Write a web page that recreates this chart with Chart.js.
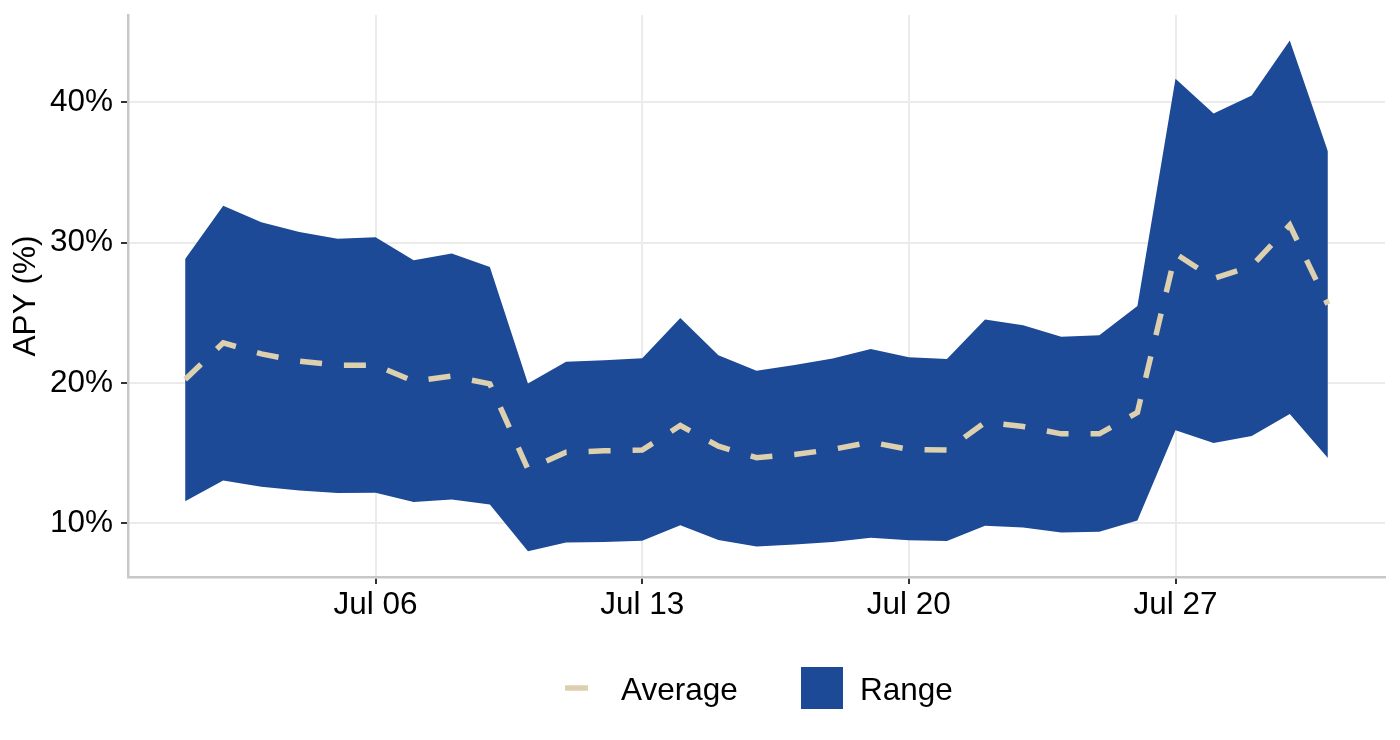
<!DOCTYPE html>
<html>
<head>
<meta charset="utf-8">
<script src="https://cdn.jsdelivr.net/npm/chart.js@4"></script>
<style>
  html, body { margin: 0; padding: 0; background: #fff; }
  #wrap { width: 1400px; height: 740px; }
</style>
</head>
<body>
<div id="wrap"><canvas id="myChart" width="1400" height="740"></canvas></div>
<script>
// day of month, July
const days = [1, 2, 3, 4, 5, 6, 7, 8, 9, 10, 11, 12, 13, 14, 15, 16, 17, 18, 19, 20, 21, 22, 23, 24, 25, 26, 27, 28, 29, 30, 31];
const rangeLow = [11.57, 13.06, 12.61, 12.35, 12.16, 12.18, 11.52, 11.71, 11.35, 8.02, 8.63, 8.67, 8.77, 9.86, 8.81, 8.36, 8.5, 8.67, 8.98, 8.79, 8.74, 9.83, 9.7, 9.35, 9.4, 10.21, 16.64, 15.72, 16.23, 17.79, 14.65];
const rangeHigh = [28.84, 32.63, 31.45, 30.76, 30.28, 30.38, 28.74, 29.22, 28.27, 19.96, 21.51, 21.62, 21.77, 24.64, 21.98, 20.87, 21.29, 21.74, 22.43, 21.84, 21.72, 24.52, 24.11, 23.3, 23.4, 25.49, 41.68, 39.21, 40.48, 44.4, 36.52];
const average = [20.25, 22.86, 22.08, 21.55, 21.27, 21.27, 20.13, 20.49, 19.94, 13.86, 15.07, 15.17, 15.22, 16.97, 15.5, 14.68, 14.91, 15.27, 15.79, 15.27, 15.22, 17.2, 16.9, 16.38, 16.38, 17.91, 29.22, 27.45, 28.33, 31.25, 25.59];

const xTicks = [6, 13, 20, 27];
const xTickLabels = ['Jul 06', 'Jul 13', 'Jul 20', 'Jul 27'];
const yTicks = [10, 20, 30, 40];

const rangeColor = '#1d4a96';
const avgColor = '#ddd0af';
const fontFamily = '"Liberation Sans", Arial, Helvetica, sans-serif';
const textSize = 31.5;

function toPoints(vals) {
    return days.map((d, i) => ({ x: d, y: vals[i] }));
}

// ggplot style legend under the plot
const bottomLegend = {
    id: 'bottomLegend',
    afterDraw(chart) {
        const ctx = chart.ctx;
        const avg = chart.data.datasets[0];
        const rng = chart.data.datasets[2];
        const cy = 688;
        ctx.save();
        ctx.strokeStyle = avg.borderColor;
        ctx.lineWidth = avg.borderWidth;
        ctx.beginPath();
        ctx.moveTo(565, cy);
        ctx.lineTo(588, cy);
        ctx.stroke();
        ctx.fillStyle = rng.backgroundColor;
        ctx.fillRect(801, 667, 42, 42);
        ctx.fillStyle = '#000';
        ctx.font = textSize + 'px ' + fontFamily;
        ctx.textBaseline = 'alphabetic';
        ctx.fillText(avg.label, 621, 700);
        ctx.fillText(rng.label, 860, 700);
        ctx.restore();
    }
};

let ctx = document.querySelector('#myChart').getContext('2d');
myChart = new Chart(ctx, {
    type: 'line',
    plugins: [bottomLegend],
    data: {
        datasets: [{
            label: 'Average',
            data: toPoints(average),
            borderColor: avgColor,
            borderWidth: 5.5,
            borderDash: [22, 22],
            borderCapStyle: 'butt',
            pointRadius: 0,
            tension: 0,
            fill: false
        }, {
            label: 'Range low',
            data: toPoints(rangeLow),
            borderWidth: 0,
            borderColor: 'rgba(0,0,0,0)',
            pointRadius: 0,
            tension: 0,
            fill: false
        }, {
            label: 'Range',
            data: toPoints(rangeHigh),
            borderWidth: 0,
            borderColor: 'rgba(0,0,0,0)',
            backgroundColor: rangeColor,
            pointRadius: 0,
            tension: 0,
            fill: 1
        }]
    },
    options: {
        responsive: false,
        animation: false,
        devicePixelRatio: 1,
        layout: {
            padding: { top: 15, right: 15, bottom: 0, left: 0 }
        },
        plugins: {
            legend: { display: false },
            tooltip: { enabled: false }
        },
        scales: {
            x: {
                type: 'linear',
                min: -0.5,
                max: 32.5,
                afterBuildTicks: (scale) => { scale.ticks = xTicks.map(v => ({ value: v })); },
                afterFit: (scale) => {
                    scale.height = 163;
                    scale.paddingLeft = 0;
                    scale.paddingRight = 0;
                },
                ticks: {
                    color: '#000',
                    padding: 2,
                    maxRotation: 0,
                    font: { family: fontFamily, size: textSize },
                    callback: (v) => xTickLabels[xTicks.indexOf(v)]
                },
                grid: {
                    color: '#ebebeb',
                    lineWidth: 2,
                    tickColor: '#333',
                    tickWidth: 2,
                    tickLength: 7
                },
                border: { color: '#c8c8c8', width: 2.5 }
            },
            y: {
                min: 6.18,
                max: 46.22,
                afterBuildTicks: (scale) => { scale.ticks = yTicks.map(v => ({ value: v })); },
                afterFit: (scale) => {
                    scale.width = 128;
                    scale.paddingTop = 0;
                    scale.paddingBottom = 0;
                },
                ticks: {
                    color: '#000',
                    padding: 8,
                    font: { family: fontFamily, size: textSize },
                    callback: (v) => v + '%'
                },
                grid: {
                    color: '#ebebeb',
                    lineWidth: 2,
                    tickColor: '#333',
                    tickWidth: 2,
                    tickLength: 7
                },
                border: { color: '#c8c8c8', width: 2.5 },
                title: {
                    display: true,
                    text: 'APY (%)',
                    color: '#000',
                    padding: { top: 7, bottom: 0 },
                    font: { family: fontFamily, size: textSize, lineHeight: 1.2 }
                }
            }
        }
    }
});
</script>
</body>
</html>
